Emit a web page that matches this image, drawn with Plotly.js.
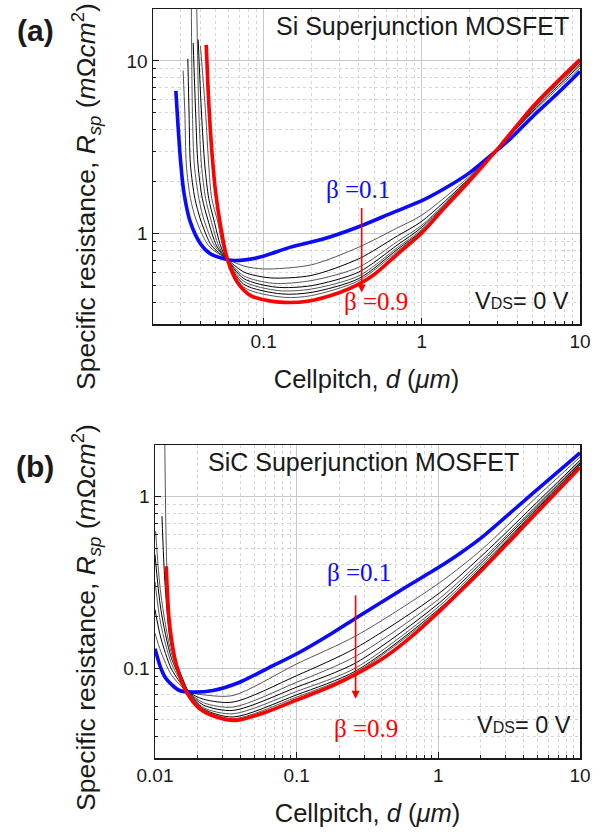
<!DOCTYPE html>
<html>
<head>
<meta charset="utf-8">
<script src="https://cdn.plot.ly/plotly-3.0.1.min.js"></script>
<style>html,body{margin:0;padding:0;background:#fff;}#chart{width:610px;height:834px;}</style>
</head>
<body>
<div id="chart"></div>
<script>
// ---------- Panel (a): Si superjunction MOSFET ----------
const betaLabels = ["β =0.1", "β =0.2", "β =0.3", "β =0.4", "β =0.5", "β =0.6", "β =0.7", "β =0.8", "β =0.9"];

const A_D_01 = [0.0279, 0.0288, 0.0299, 0.0313, 0.0344, 0.0399, 0.046, 0.0561, 0.0648, 0.0912, 0.148, 0.241, 0.392, 0.637, 1.04, 1.5, 2.0, 2.87, 3.66, 5.14, 7.23, 10];
const A_R_01 = [6.72, 4.2, 2.61, 1.75, 1.17, 0.875, 0.765, 0.716, 0.70, 0.725, 0.836, 0.935, 1.09, 1.31, 1.58, 1.90, 2.25, 2.95, 3.57, 4.87, 6.51, 8.7];

const A_D_02 = [0.031, 0.0318, 0.0325, 0.0345, 0.0375, 0.045, 0.058, 0.075, 0.1, 0.2, 0.4, 0.7, 1.0, 2.0, 3.5, 6, 10];
const A_R_02 = [8.8, 5.0, 2.5, 1.6, 1.2, 0.85, 0.72, 0.65, 0.625, 0.66, 0.836, 1.08, 1.28, 2.15, 3.6, 5.9, 9.1];

const A_D_03 = [0.0332, 0.0338, 0.0345, 0.0368, 0.040, 0.047, 0.058, 0.075, 0.11, 0.2, 0.4, 0.7, 1.0, 2.0, 3.5, 6, 10];
const A_R_03 = [10.3, 5.0, 2.5, 1.6, 1.2, 0.85, 0.72, 0.60, 0.555, 0.573, 0.716, 0.97, 1.18, 2.1, 3.6, 6.05, 9.4];

const A_D_04 = [0.0349, 0.0355, 0.0365, 0.039, 0.042, 0.049, 0.058, 0.075, 0.115, 0.2, 0.4, 0.7, 1.0, 2.0, 3.5, 6, 10];
const A_R_04 = [24, 5.0, 2.5, 1.6, 1.2, 0.85, 0.72, 0.57, 0.516, 0.535, 0.64, 0.90, 1.12, 2.08, 3.6, 6.2, 9.6];

const A_D_05 = [0.0359, 0.0372, 0.0385, 0.041, 0.0445, 0.0505, 0.058, 0.075, 0.12, 0.2, 0.4, 0.7, 1.0, 2.0, 3.5, 6, 10];
const A_R_05 = [12.7, 5.0, 2.5, 1.6, 1.2, 0.85, 0.72, 0.55, 0.49, 0.50, 0.60, 0.86, 1.09, 2.07, 3.6, 6.3, 9.8];

const A_D_06 = [0.0377, 0.039, 0.0405, 0.043, 0.0465, 0.052, 0.058, 0.075, 0.125, 0.2, 0.4, 0.7, 1.0, 2.0, 3.5, 6, 10];
const A_R_06 = [24, 5.0, 2.5, 1.6, 1.2, 0.85, 0.72, 0.53, 0.468, 0.478, 0.57, 0.83, 1.06, 2.06, 3.6, 6.4, 9.9];

const A_D_07 = [0.0386, 0.0405, 0.0425, 0.045, 0.0485, 0.0535, 0.058, 0.075, 0.13, 0.2, 0.4, 0.7, 1.0, 2.0, 3.5, 6, 10];
const A_R_07 = [13.3, 5.0, 2.5, 1.6, 1.2, 0.85, 0.72, 0.51, 0.448, 0.457, 0.55, 0.81, 1.04, 2.05, 3.6, 6.45, 10.0];

const A_D_08 = [0.0399, 0.043, 0.045, 0.047, 0.051, 0.055, 0.0585, 0.075, 0.135, 0.2, 0.4, 0.7, 1.0, 2.0, 3.5, 6, 10];
const A_R_08 = [12.2, 5.0, 2.5, 1.6, 1.2, 0.85, 0.72, 0.49, 0.428, 0.438, 0.535, 0.79, 1.03, 2.04, 3.6, 6.5, 10.1];

const A_D_09 = [0.0434, 0.0451, 0.0473, 0.0497, 0.0534, 0.0589, 0.0682, 0.0828, 0.108, 0.134, 0.189, 0.3, 0.4, 0.5, 0.7, 1.0, 1.4, 2.0, 3.16, 5.14, 10];
const A_R_09 = [12.4, 5.57, 2.85, 1.75, 1.12, 0.716, 0.523, 0.438, 0.409, 0.40, 0.406, 0.455, 0.51, 0.58, 0.76, 1.01, 1.42, 2.02, 3.26, 5.57, 10.2];

// ---------- Panel (b): SiC superjunction MOSFET ----------
const B_D_01 = [0.01, 0.011, 0.012, 0.0149, 0.0185, 0.0257, 0.0396, 0.061, 0.105, 0.18, 0.264, 0.533, 1.02, 1.41, 2.07, 4.66, 10];
const B_R_01 = [0.13, 0.10, 0.0867, 0.0742, 0.0726, 0.0742, 0.0829, 0.099, 0.124, 0.161, 0.197, 0.282, 0.39, 0.465, 0.587, 1.05, 1.8];

const B_D_02 = [0.01, 0.011, 0.013, 0.0155, 0.0175, 0.022, 0.0355, 0.1, 0.264, 1.02, 2.07, 4.66, 10];
const B_R_02 = [0.16, 0.125, 0.092, 0.078, 0.0725, 0.070, 0.0694, 0.106, 0.155, 0.315, 0.50, 0.95, 1.7];

const B_D_03 = [0.01, 0.011, 0.013, 0.0155, 0.0175, 0.022, 0.0355, 0.1, 0.264, 1.02, 2.07, 4.66, 10];
const B_R_03 = [0.22, 0.15, 0.10, 0.080, 0.0722, 0.066, 0.0635, 0.0906, 0.132, 0.275, 0.46, 0.88, 1.63];

const B_D_04 = [0.01, 0.011, 0.013, 0.0155, 0.0175, 0.022, 0.0355, 0.1, 0.264, 1.02, 2.07, 4.66, 10];
const B_R_04 = [0.32, 0.18, 0.108, 0.082, 0.072, 0.063, 0.0594, 0.0829, 0.118, 0.255, 0.435, 0.85, 1.6];

const B_D_05 = [0.01, 0.011, 0.013, 0.0155, 0.0175, 0.022, 0.0355, 0.1, 0.264, 1.02, 2.07, 4.66, 10];
const B_R_05 = [0.46, 0.22, 0.116, 0.084, 0.0718, 0.061, 0.0568, 0.0776, 0.108, 0.241, 0.42, 0.83, 1.57];

const B_D_06 = [0.0101, 0.011, 0.013, 0.0155, 0.0175, 0.022, 0.0355, 0.1, 0.264, 1.02, 2.07, 4.66, 10];
const B_R_06 = [0.63, 0.27, 0.124, 0.086, 0.0716, 0.059, 0.0543, 0.0733, 0.101, 0.231, 0.405, 0.81, 1.55];

const B_D_07 = [0.0112, 0.0118, 0.013, 0.0155, 0.0175, 0.022, 0.0355, 0.1, 0.264, 1.02, 2.07, 4.66, 10];
const B_R_07 = [0.77, 0.30, 0.135, 0.089, 0.0714, 0.058, 0.052, 0.070, 0.0969, 0.223, 0.395, 0.80, 1.53];

const B_D_08 = [0.0117, 0.0121, 0.0128, 0.0145, 0.0165, 0.0175, 0.022, 0.0355, 0.1, 0.264, 1.02, 2.07, 4.66, 10];
const B_R_08 = [2.5, 0.40, 0.17, 0.10, 0.077, 0.0712, 0.0575, 0.0508, 0.0679, 0.0948, 0.218, 0.39, 0.78, 1.52];

const B_D_09 = [0.012, 0.0127, 0.0142, 0.0167, 0.0207, 0.0271, 0.0375, 0.061, 0.105, 0.18, 0.264, 0.43, 0.70, 1.02, 1.41, 2.07, 4.66, 10];
const B_R_09 = [0.393, 0.177, 0.1035, 0.0726, 0.058, 0.052, 0.0497, 0.0556, 0.0664, 0.0793, 0.0927, 0.118, 0.162, 0.215, 0.278, 0.38, 0.766, 1.48];

// Tick labels
const A_XTICKS = [0.1, 1, 10];
const A_XTEXT = ["0.1", "1", "10"];
const A_YTICKS = [1, 10];
const A_YTEXT = ["1", "10"];
const B_XTICKS = [0.01, 0.1, 1, 10];
const B_XTEXT = ["0.01", "0.1", "1", "10"];
const B_YTICKS = [0.1, 1];
const B_YTEXT = ["0.1", "1"];

const SANS = "Liberation Sans, Arial, Helvetica, sans-serif";
const SERIF = "Liberation Serif, Times New Roman, serif";

const aSets = [[A_D_01,A_R_01],[A_D_02,A_R_02],[A_D_03,A_R_03],[A_D_04,A_R_04],[A_D_05,A_R_05],[A_D_06,A_R_06],[A_D_07,A_R_07],[A_D_08,A_R_08],[A_D_09,A_R_09]];
const bSets = [[B_D_01,B_R_01],[B_D_02,B_R_02],[B_D_03,B_R_03],[B_D_04,B_R_04],[B_D_05,B_R_05],[B_D_06,B_R_06],[B_D_07,B_R_07],[B_D_08,B_R_08],[B_D_09,B_R_09]];

function styleFor(i) {
  if (i === 0) return {color: "#0a0aff", width: 3.6};
  if (i === 8) return {color: "#ff0000", width: 3.6};
  return {color: (i % 2 === 0) ? "#000000" : "#555555", width: 1};
}

const traces = [];
function addSets(sets, xa, ya) {
  const order = [1,2,3,4,5,6,7,0,8];
  order.forEach(i => {
    const st = styleFor(i);
    traces.push({
      x: sets[i][0], y: sets[i][1], xaxis: xa, yaxis: ya,
      type: "scatter", mode: "lines", name: betaLabels[i],
      line: {color: st.color, width: st.width, shape: "spline", smoothing: 0.8},
      hoverinfo: "x+y+name"
    });
  });
}
addSets(aSets, "x", "y");
addSets(bSets, "x2", "y2");

function axisBase(extra) {
  return Object.assign({
    type: "log",
    showline: true, linecolor: "#1a1a1a", linewidth: 1.5, mirror: true,
    ticks: "inside", ticklen: 6, tickwidth: 1, tickcolor: "#1a1a1a",
    showgrid: true, gridcolor: "#c9c9c9", gridwidth: 1,
    zeroline: false,
    tickfont: {family: SANS, size: 19, color: "#1a1a1a"},
    tickmode: "array",
    minor: {ticks: "inside", ticklen: 3, tickcolor: "#1a1a1a", dtick: "D1",
            showgrid: true, gridcolor: "#d6d6d6", griddash: "dot", gridwidth: 1},
    automargin: false
  }, extra);
}

const xTitleText = "Cellpitch, <i>d</i> (<i>μm</i>)";
const yTitleText = "Specific resistance, <i>R<sub>sp</sub></i> (<i>m</i>Ω<i>cm</i><sup>2</sup>)";
const titleFont = {family: SANS, size: 25.5, color: "#1a1a1a"};

const layout = {
  width: 610, height: 834,
  margin: {l: 0, r: 0, t: 0, b: 0},
  paper_bgcolor: "#ffffff", plot_bgcolor: "#ffffff",
  showlegend: false,
  font: {family: SANS, color: "#1a1a1a"},
  xaxis: axisBase({domain: [153/610, 580/610], range: [Math.log10(0.02), 1], anchor: "y",
    tickvals: A_XTICKS, ticktext: A_XTEXT,
    title: {text: xTitleText, font: titleFont, standoff: 19}}),
  yaxis: axisBase({domain: [1-324/834, 1-9/834], range: [Math.log10(0.3), Math.log10(20)], anchor: "x",
    tickvals: A_YTICKS, ticktext: A_YTEXT}),
  xaxis2: axisBase({domain: [155/610, 580/610], range: [-2, 1], anchor: "y2",
    tickvals: B_XTICKS, ticktext: B_XTEXT,
    title: {text: xTitleText, font: titleFont, standoff: 19}}),
  yaxis2: axisBase({domain: [1-758/834, 1-445/834], range: [Math.log10(0.03), Math.log10(2)], anchor: "x2",
    tickvals: B_YTICKS, ticktext: B_YTEXT}),
  annotations: [
    {xref: "paper", yref: "paper", x: 86/610, y: 1-197/834, text: yTitleText, textangle: -90,
     showarrow: false, xanchor: "center", yanchor: "middle", font: {family: SANS, size: 26.5, color: "#1a1a1a"}},
    {xref: "paper", yref: "paper", x: 86/610, y: 1-618/834, text: yTitleText, textangle: -90,
     showarrow: false, xanchor: "center", yanchor: "middle", font: {family: SANS, size: 26.5, color: "#1a1a1a"}},
    {xref: "paper", yref: "paper", x: 35/610, y: 1-31/834, text: "<b>(a)</b>", showarrow: false,
     xanchor: "center", yanchor: "middle", font: {family: SANS, size: 30, color: "#1a1a1a"}},
    {xref: "paper", yref: "paper", x: 35/610, y: 1-466/834, text: "<b>(b)</b>", showarrow: false,
     xanchor: "center", yanchor: "middle", font: {family: SANS, size: 30, color: "#1a1a1a"}},
    {xref: "paper", yref: "paper", x: 571/610, y: 1-26/834, text: "Si Superjunction MOSFET", showarrow: false,
     xanchor: "right", yanchor: "middle", font: {family: SANS, size: 25, color: "#1a1a1a"}},
    {xref: "paper", yref: "paper", x: 206/610, y: 1-462/834, text: "SiC Superjunction MOSFET", showarrow: false,
     xanchor: "left", yanchor: "middle", font: {family: SANS, size: 25, color: "#1a1a1a"}},
    {xref: "paper", yref: "paper", x: 358/610, y: 1-189/834, text: betaLabels[0], showarrow: false,
     xanchor: "center", yanchor: "middle", font: {family: SERIF, size: 25, color: "#0a0aff"}},
    {xref: "paper", yref: "paper", x: 376/610, y: 1-301/834, text: betaLabels[8], showarrow: false,
     xanchor: "center", yanchor: "middle", font: {family: SERIF, size: 25, color: "#ff0000"}},
    {xref: "paper", yref: "paper", x: 359/610, y: 1-572/834, text: betaLabels[0], showarrow: false,
     xanchor: "center", yanchor: "middle", font: {family: SERIF, size: 25, color: "#0a0aff"}},
    {xref: "paper", yref: "paper", x: 366/610, y: 1-728/834, text: betaLabels[8], showarrow: false,
     xanchor: "center", yanchor: "middle", font: {family: SERIF, size: 25, color: "#ff0000"}},
    {xref: "paper", yref: "paper", x: 571/610, y: 1-301/834, text: "V<span style=\"font-size:16px\">DS</span>= 0 V", showarrow: false,
     xanchor: "right", yanchor: "middle", font: {family: SANS, size: 23.5, color: "#1a1a1a"}},
    {xref: "paper", yref: "paper", x: 573/610, y: 1-725/834, text: "V<span style=\"font-size:16px\">DS</span>= 0 V", showarrow: false,
     xanchor: "right", yanchor: "middle", font: {family: SANS, size: 23.5, color: "#1a1a1a"}},
    // arrows beta 0.1 -> 0.9
    {xref: "x", yref: "y", x: -0.380, y: -0.341, ax: 0, ay: -86, axref: "pixel", ayref: "pixel", text: "",
     showarrow: true, arrowhead: 2, arrowsize: 1, arrowwidth: 1.6, arrowcolor: "#ff0000", standoff: 0},
    {xref: "x2", yref: "y2", x: -0.584, y: -1.178, ax: 0, ay: -105, axref: "pixel", ayref: "pixel", text: "",
     showarrow: true, arrowhead: 2, arrowsize: 1, arrowwidth: 1.6, arrowcolor: "#ff0000", standoff: 0}
  ]
};

Plotly.newPlot("chart", traces, layout, {displayModeBar: false, staticPlot: true});
</script>
</body>
</html>
